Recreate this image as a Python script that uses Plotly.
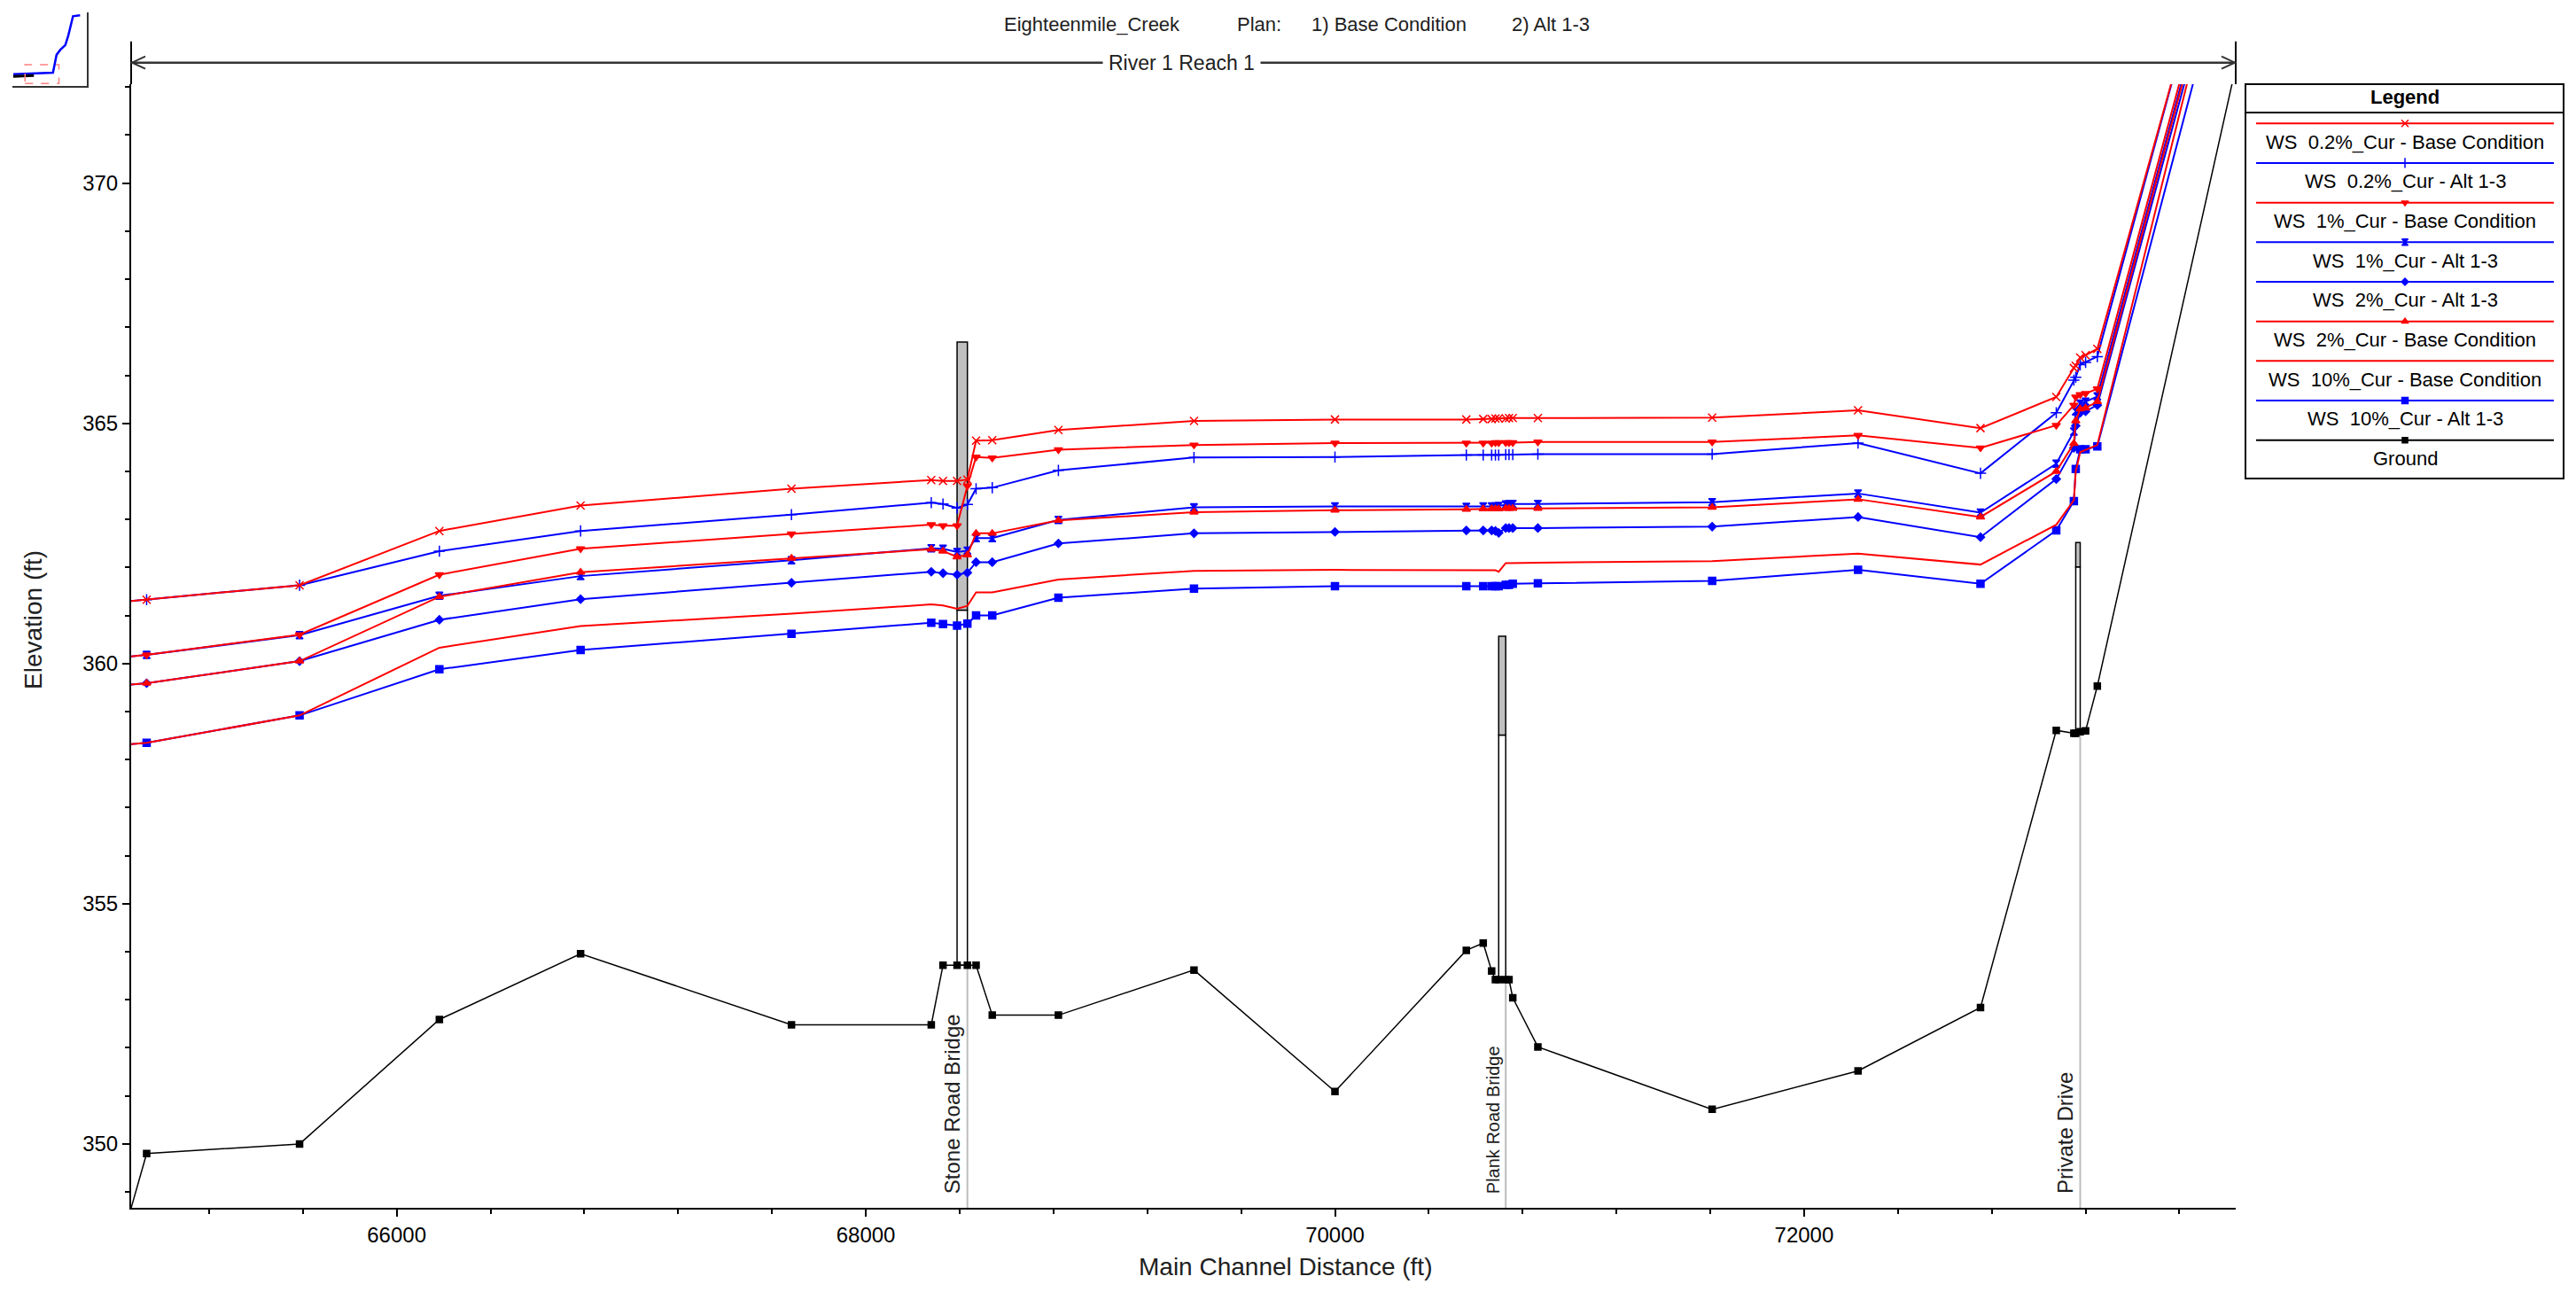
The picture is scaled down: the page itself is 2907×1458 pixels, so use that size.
import plotly.graph_objects as go

W, H = 2907, 1458          # target picture size
OFF = 8                    # page body margin
FW, FH = W - 2 * OFF, H - 2 * OFF
FONT = "Liberation Sans, Arial, sans-serif"

# ---------------- data ----------------
stations = [64800, 64934, 65586, 66182, 66784, 67683, 68279, 68329, 68389, 68433,
            68470, 68539, 68821, 69399, 70000, 70560, 70632, 70668, 70684, 70698,
            70728, 70742, 70758, 70865, 71608, 72230, 72752, 73075, 73150, 73158,
            73177, 73200, 73250, 74000]

ws_02_base = [361.27, 361.33, 361.63, 362.76, 363.29, 363.64, 363.82, 363.80, 363.80, 363.83,
              364.64, 364.65, 364.86, 365.05, 365.08, 365.08, 365.09, 365.09, 365.10, 365.10,
              365.10, 365.11, 365.11, 365.11, 365.12, 365.27, 364.90, 365.55, 366.15, 366.20,
              366.37, 366.42, 366.55, 379.70]
ws_02_alt = [361.27, 361.33, 361.63, 362.34, 362.76, 363.10, 363.35, 363.32, 363.24, 363.31,
             363.64, 363.66, 364.02, 364.29, 364.30, 364.34, 364.34, 364.34, 364.34, 364.34,
             364.35, 364.35, 364.35, 364.36, 364.36, 364.59, 363.96, 365.22, 365.90, 365.96,
             366.22, 366.27, 366.39, 379.85]
ws_1_base = [360.12, 360.18, 360.60, 361.85, 362.39, 362.70, 362.89, 362.87, 362.87, 363.70,
             364.30, 364.28, 364.45, 364.55, 364.59, 364.59, 364.59, 364.59, 364.60, 364.60,
             364.60, 364.60, 364.60, 364.61, 364.61, 364.75, 364.49, 364.96, 365.38, 365.55,
             365.60, 365.62, 365.72, 379.35]
ws_1_alt = [360.12, 360.18, 360.59, 361.41, 361.82, 362.15, 362.40, 362.39, 362.32, 362.35,
            362.61, 362.61, 362.99, 363.25, 363.27, 363.26, 363.27, 363.27, 363.27, 363.28,
            363.31, 363.32, 363.32, 363.32, 363.36, 363.54, 363.14, 364.16, 364.83, 365.25,
            365.41, 365.45, 365.56, 379.20]
ws_2_alt = [359.53, 359.59, 360.05, 360.91, 361.34, 361.68, 361.91, 361.88, 361.85, 361.89,
            362.11, 362.11, 362.50, 362.71, 362.74, 362.77, 362.77, 362.77, 362.76, 362.72,
            362.82, 362.82, 362.82, 362.82, 362.85, 363.05, 362.63, 363.84, 364.49, 364.95,
            365.22, 365.25, 365.38, 378.90]
ws_2_base = [359.53, 359.59, 360.05, 361.39, 361.90, 362.19, 362.38, 362.34, 362.22, 362.26,
             362.71, 362.71, 362.98, 363.15, 363.19, 363.21, 363.22, 363.22, 363.22, 363.22,
             363.23, 363.23, 363.23, 363.23, 363.25, 363.42, 363.05, 364.00, 364.58, 365.05,
             365.30, 365.32, 365.45, 379.15]
ws_10_base = [358.29, 358.35, 358.92, 360.33, 360.78, 361.04, 361.23, 361.21, 361.14, 361.20,
              361.48, 361.48, 361.75, 361.93, 361.95, 361.95, 361.95, 361.95, 361.94, 361.91,
              362.09, 362.09, 362.09, 362.10, 362.13, 362.29, 362.06, 362.89, 363.40, 364.00,
              364.40, 364.45, 364.55, 379.30]
ws_10_alt = [358.29, 358.35, 358.92, 359.88, 360.28, 360.62, 360.85, 360.82, 360.79, 360.83,
             361.00, 361.00, 361.37, 361.56, 361.61, 361.61, 361.61, 361.61, 361.61, 361.61,
             361.64, 361.64, 361.66, 361.67, 361.72, 361.95, 361.66, 362.77, 363.38, 364.05,
             364.46, 364.46, 364.52, 378.40]
ground = [347.50, 349.80, 350.00, 352.59, 353.96, 352.48, 352.48, 353.72, 353.72, 353.72,
          353.72, 352.68, 352.68, 353.62, 351.09, 354.03, 354.18, 353.60, 353.42, 353.42,
          353.42, 353.42, 353.04, 352.02, 350.72, 351.52, 352.84, 358.61, 358.55, 358.55,
          358.58, 358.60, 359.53, 375.90]

series_names = ["WS  0.2%_Cur - Base Condition", "WS  0.2%_Cur - Alt 1-3",
                "WS  1%_Cur - Base Condition", "WS  1%_Cur - Alt 1-3",
                "WS  2%_Cur - Alt 1-3", "WS  2%_Cur - Base Condition",
                "WS  10%_Cur - Base Condition", "WS  10%_Cur - Alt 1-3", "Ground"]
series_values = [ws_02_base, ws_02_alt, ws_1_base, ws_1_alt, ws_2_alt, ws_2_base,
                 ws_10_base, ws_10_alt, ground]

bridge_names = ["Stone Road Bridge", "Plank Road Bridge", "Private Drive"]
bridge_us = [68389, 70698, 73158]
bridge_ds = [68433, 70728, 73177]
deck_top = [366.69, 360.57, 362.52]
deck_low = [361.11, 358.51, 362.01]
bridge_ground = [353.72, 353.42, 358.57]
bridge_label_size = [24, 20, 24]

x_ticks_major = 2000
y_ticks_major = 5
x_range = [64868, 73840]
y_range = [348.67, 372.06]

# overview thumbnail (read in relative units 0-100)
thumb_ws_x = [1.2, 54.5, 59.3, 64.4, 71.1, 75.1, 81.4, 90.9]
thumb_ws_y = [16.1, 18.1, 42.3, 49.2, 55.6, 68.5, 94.8, 96.0]
thumb_gr_x = [1.2, 28.9]
thumb_gr_y = [12.9, 14.1]

# ---------------- styles ----------------
RED, BLUE, BLACK = "#FF0000", "#0000FF", "#000000"
styles = [
    dict(color=RED, symbol="x-thin", size=9, lw=2),
    dict(color=BLUE, symbol="cross-thin", size=9, lw=2),
    dict(color=RED, symbol="triangle-down", size=8, lw=2),
    dict(color=BLUE, symbol="hourglass", size=8, lw=2),
    dict(color=BLUE, symbol="diamond", size=7, lw=2),
    dict(color=RED, symbol="triangle-up", size=8, lw=2),
    dict(color=RED, symbol=None, size=0, lw=2),
    dict(color=BLUE, symbol="square", size=8, lw=2),
    dict(color=BLACK, symbol="square", size=7, lw=1.5),
]

# plot area in target pixels
PL, PR, PT, PB = 148, 2523, 95, 1363
# legend box in target pixels
LL, LR, LT, LBm = 2534, 2893, 95, 540


def px(x):
    return (x - OFF) / FW


def py(y):
    return 1 - (y - OFF) / FH


fig = go.Figure()

order = [7, 4, 3, 1, 6, 5, 2, 0, 8]
for i in order:
    st = styles[i]
    if st["symbol"]:
        mk = dict(symbol=st["symbol"], size=st["size"], color=st["color"],
                  line=dict(width=1.5, color=st["color"]))
        mode = "lines+markers"
    else:
        mk = None
        mode = "lines"
    fig.add_trace(go.Scatter(x=stations, y=series_values[i], mode=mode,
                             name=series_names[i],
                             line=dict(color=st["color"], width=st["lw"]),
                             marker=mk, showlegend=False, hoverinfo="skip"))

shapes = []
annotations = []

# bridges
for name, us, ds, top, low, gr, fs in zip(bridge_names, bridge_us, bridge_ds, deck_top,
                                          deck_low, bridge_ground, bridge_label_size):
    shapes.append(dict(type="line", xref="x", yref="y", x0=ds, x1=ds, y0=y_range[0], y1=gr,
                       line=dict(color="#BDBDBD", width=2), layer="below"))
    shapes.append(dict(type="rect", xref="x", yref="y", x0=us, x1=ds, y0=gr, y1=low,
                       fillcolor="white", line=dict(color="black", width=1.5), layer="below"))
    shapes.append(dict(type="rect", xref="x", yref="y", x0=us, x1=ds, y0=low, y1=top,
                       fillcolor="#C0C0C0", line=dict(color="black", width=1.5), layer="below"))
    annotations.append(dict(x=ds, y=y_range[0] + 0.25, xref="x", yref="y", text=name,
                            textangle=-90, showarrow=False, xanchor="right", yanchor="bottom",
                            font=dict(family=FONT, size=fs, color="#202020"), xshift=-1))

# reach arrow on top
ya, yt = 70.7, 46.7
shapes += [
    dict(type="line", xref="paper", yref="paper", x0=px(PL), x1=px(PL), y0=py(yt), y1=py(PT),
         line=dict(color="black", width=2)),
    dict(type="line", xref="paper", yref="paper", x0=px(PR), x1=px(PR), y0=py(yt), y1=py(PT),
         line=dict(color="black", width=2)),
    dict(type="line", xref="paper", yref="paper", x0=px(PL), x1=px(PR), y0=py(ya), y1=py(ya),
         line=dict(color="#333333", width=2.5)),
    dict(type="path", xref="paper", yref="paper",
         path=f"M {px(PL + 16)} {py(ya - 7)} L {px(PL + 1)} {py(ya)} L {px(PL + 16)} {py(ya + 7)}",
         line=dict(color="#333333", width=2)),
    dict(type="path", xref="paper", yref="paper",
         path=f"M {px(PR - 16)} {py(ya - 7)} L {px(PR - 1)} {py(ya)} L {px(PR - 16)} {py(ya + 7)}",
         line=dict(color="#333333", width=2)),
]
annotations.append(dict(x=px(1333), y=py(ya), xref="paper", yref="paper", text="River 1 Reach 1",
                        showarrow=False, bgcolor="white", borderpad=6, xanchor="center",
                        yanchor="middle", font=dict(family=FONT, size=23, color="#202020")))

# plan subtitle
for txt, x0 in [("Eighteenmile_Creek", 1131), ("Plan:", 1394), ("1) Base Condition", 1478),
                ("2) Alt 1-3", 1704)]:
    annotations.append(dict(x=px(x0), y=py(28), xref="paper", yref="paper", text=txt,
                            showarrow=False, xanchor="left", yanchor="middle",
                            font=dict(family=FONT, size=22, color="#202020")))

# axis titles
annotations.append(dict(x=px(1450), y=py(1429), xref="paper", yref="paper",
                        text="Main Channel Distance (ft)", showarrow=False, xanchor="center",
                        yanchor="middle", font=dict(family=FONT, size=28, color="#202020")))
annotations.append(dict(x=px(37), y=py(700), xref="paper", yref="paper", text="Elevation (ft)",
                        textangle=-90, showarrow=False, xanchor="center", yanchor="middle",
                        font=dict(family=FONT, size=28, color="#202020")))

# custom legend box
shapes.append(dict(type="rect", xref="paper", yref="paper", x0=px(LL), x1=px(LR), y0=py(LBm),
                   y1=py(LT), line=dict(color="black", width=2), fillcolor="rgba(0,0,0,0)",
                   layer="below"))
shapes.append(dict(type="line", xref="paper", yref="paper", x0=px(LL), x1=px(LR), y0=py(127),
                   y1=py(127), line=dict(color="black", width=2)))
annotations.append(dict(x=px((LL + LR) / 2), y=py(110), xref="paper", yref="paper",
                        text="<b>Legend</b>", showarrow=False, xanchor="center", yanchor="middle",
                        font=dict(family=FONT, size=22, color="black")))
leg_line_y0, leg_step = 139.3, 44.67
leg_x0, leg_x1 = 2546, 2882
leg_cx = (leg_x0 + leg_x1) / 2
for k, (name, st) in enumerate(zip(series_names, styles)):
    yl = leg_line_y0 + k * leg_step
    shapes.append(dict(type="line", xref="paper", yref="paper", x0=px(leg_x0), x1=px(leg_x1),
                       y0=py(yl), y1=py(yl), line=dict(color=st["color"], width=2)))
    annotations.append(dict(x=px(leg_cx), y=py(yl + 21), xref="paper", yref="paper",
                            text=name.replace("  ", "&nbsp;&nbsp;"), showarrow=False,
                            xanchor="center", yanchor="middle",
                            font=dict(family=FONT, size=22, color="black")))
    if st["symbol"]:
        fig.add_trace(go.Scatter(x=[leg_cx], y=[yl], xaxis="x2", yaxis="y2", mode="markers",
                                 marker=dict(symbol=st["symbol"], size=st["size"] - 1,
                                             color=st["color"],
                                             line=dict(width=1.5, color=st["color"])),
                                 showlegend=False, hoverinfo="skip", cliponaxis=False))

# thumbnail overview
fig.add_trace(go.Scatter(x=thumb_ws_x, y=thumb_ws_y, xaxis="x3", yaxis="y3", mode="lines",
                         line=dict(color=BLUE, width=2.5), showlegend=False, hoverinfo="skip"))
fig.add_trace(go.Scatter(x=thumb_gr_x, y=thumb_gr_y, xaxis="x3", yaxis="y3", mode="lines",
                         line=dict(color=BLACK, width=3), showlegend=False, hoverinfo="skip"))
shapes.append(dict(type="rect", xref="x3", yref="y3", x0=17, x1=62.5, y0=3.2, y1=29,
                   line=dict(color="#FF8080", width=1.5, dash="dash")))

axis_font = dict(family=FONT, size=24, color="black")
fig.update_layout(
    width=FW, height=FH,
    margin=dict(l=0, r=0, t=0, b=0),
    paper_bgcolor="white", plot_bgcolor="rgba(0,0,0,0)",
    showlegend=False,
    xaxis=dict(domain=[px(PL), px(PR)], range=x_range, showgrid=False, zeroline=False,
               showline=True, linecolor="black", linewidth=2, ticks="outside", ticklen=8,
               tickwidth=1.5, tickcolor="black", tick0=0, dtick=x_ticks_major,
               tickformat="d", tickfont=axis_font, anchor="y",
               minor=dict(dtick=400, tick0=0, ticks="outside", ticklen=5, tickcolor="black",
                          tickwidth=1.5, showgrid=False)),
    yaxis=dict(domain=[py(PB), py(PT)], range=y_range, showgrid=False, zeroline=False,
               showline=True, linecolor="black", linewidth=2, ticks="outside", ticklen=8,
               tickwidth=1.5, tickcolor="black", tick0=0, dtick=y_ticks_major,
               tickformat="d", tickfont=axis_font, anchor="x",
               minor=dict(dtick=1, tick0=0, ticks="outside", ticklen=5, tickcolor="black",
                          tickwidth=1.5, showgrid=False)),
    xaxis2=dict(domain=[px(LL), px(LR)], range=[LL, LR], visible=False, anchor="y2",
                fixedrange=True),
    yaxis2=dict(domain=[py(LBm), py(LT)], range=[LBm, LT], visible=False, anchor="x2",
                fixedrange=True),
    xaxis3=dict(domain=[px(14), px(98)], range=[0, 100], anchor="y3", showgrid=False,
                zeroline=False, showline=True, linecolor="#333", linewidth=2,
                showticklabels=False, ticks=""),
    yaxis3=dict(domain=[py(97), py(14)], range=[0, 100], anchor="x3", side="right",
                showgrid=False, zeroline=False, showline=True, linecolor="#333", linewidth=2,
                showticklabels=False, ticks=""),
    shapes=shapes,
    annotations=annotations,
    font=dict(family=FONT),
)

fig.write_html("out.html")
